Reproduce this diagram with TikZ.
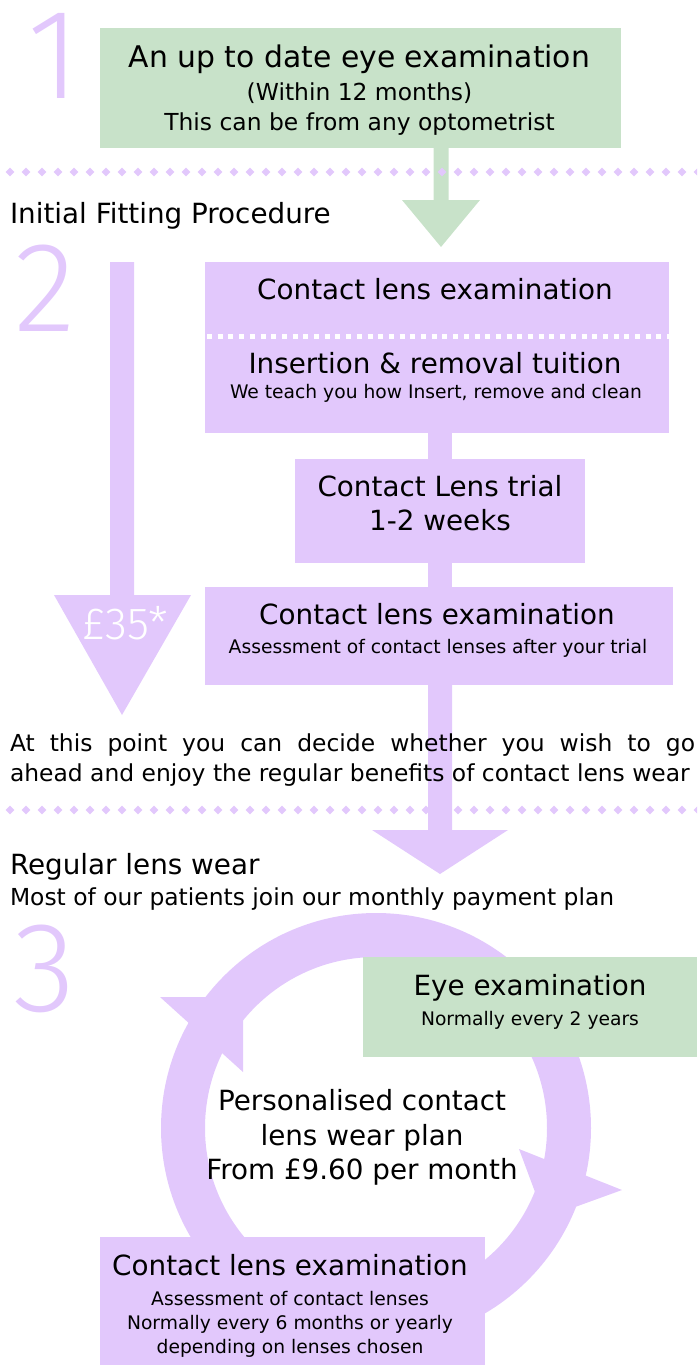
\documentclass[tikz,border=0pt]{standalone}
\usepackage{fontspec}
\setmainfont{DejaVu Sans}
\IfFontExistsTF{Fira Sans Light}
  {\newfontfamily\thinfont{Fira Sans Light}\def\digsize{128}\def\pricesize{45}}
  {\newfontfamily\thinfont{DejaVu Sans}\def\digsize{121}\def\pricesize{42}}
\usetikzlibrary{calc}
\definecolor{lav}{RGB}{226,200,252}
\definecolor{mint}{RGB}{200,226,201}
\begin{document}
\begin{tikzpicture}[x=1pt,y=-1pt,
  pbox/.style={fill=lav,draw=none,inner sep=0pt,outer sep=0pt},
  gbox/.style={fill=mint,draw=none,inner sep=0pt,outer sep=0pt},
  txt/.style={inner sep=0pt,outer sep=0pt,anchor=base,text=black},
  title/.style={txt,font=\fontsize{29.8}{36}\selectfont},
  main/.style={txt,font=\fontsize{27.8}{33}\selectfont},
  mid/.style={txt,font=\fontsize{23.4}{28}\selectfont},
  small/.style={txt,font=\fontsize{18.7}{23}\selectfont},
  digit/.style={inner sep=0pt,outer sep=0pt,anchor=base,text=lav,font=\thinfont\fontsize{\digsize}{\digsize}\selectfont}]
\useasboundingbox (0,0) rectangle (697,1365);
\clip (0,0) rectangle (697,1365);

% ---------- cycle ring (section 3) ----------
\coordinate (ringc) at (376,1128);
\draw[lav,line width=44pt] (ringc) circle[radius=193pt];
\fill[lav] (160,997) -- (243,997) -- (243,1072) -- cycle;
\fill[lav] (519,1149) -- (622,1190) -- (544.7,1218) -- cycle;

% ---------- boxes ----------
\node[gbox,minimum width=521pt,minimum height=120pt] (box1) at (360.5,88) {};
\node[pbox,minimum width=464pt,minimum height=74pt] (b2a) at (437,299) {};
\node[pbox,minimum width=464pt,minimum height=97pt] (b2b) at (437,384.5) {};
\node[pbox,minimum width=290pt,minimum height=104pt] (trial) at (440,511) {};
\node[pbox,minimum width=468pt,minimum height=98pt] (b4) at (439,636) {};
\node[gbox,minimum width=334pt,minimum height=100pt] (eye) at (530,1007) {};
\node[pbox,minimum width=385pt,minimum height=133pt] (b5) at (292.5,1303.5) {};

% white dotted separator inside box 2
\draw[white,line width=5pt,dash pattern=on 5pt off 5.7pt] ($(b2a.south west)+(2,0)$) -- (b2a.south east);

% ---------- connectors ----------
% green arrow from box 1
\coordinate (tip1) at (441,247);
\coordinate (g0) at (box1.south -| tip1);
\fill[mint] ($(g0)+(-7.5,0)$) -- ($(g0)+(7.5,0)$) -- ($(tip1)+(7.5,-47)$) -- ($(tip1)+(39,-47)$)
  -- (tip1) -- ($(tip1)+(-39,-47)$) -- ($(tip1)+(-7.5,-47)$) -- cycle;
% box 2 -> trial
\coordinate (j1) at (trial.north |- b2b.south);
\fill[lav] ($(j1)+(-12,0)$) rectangle ($(trial.north)+(12,0)$);
% trial -> box 4
\coordinate (j2) at (trial.south |- b4.north);
\fill[lav] ($(trial.south)+(-12,0)$) rectangle ($(j2)+(12,0)$);
% box 4 -> section 3
\coordinate (tip3) at (440,874);
\coordinate (k0) at (tip3 |- b4.south);
\fill[lav] ($(k0)+(-12,0)$) -- ($(k0)+(12,0)$) -- ($(tip3)+(12,-44)$) -- ($(tip3)+(68,-44)$)
  -- (tip3) -- ($(tip3)+(-68,-44)$) -- ($(tip3)+(-12,-44)$) -- cycle;
% big left price arrow
\coordinate (tipL) at (122,715);
\coordinate (l0) at (tipL |- b2a.north);
\fill[lav] ($(l0)+(-12,0)$) -- ($(l0)+(12,0)$) -- ($(tipL)+(12,-120)$) -- ($(tipL)+(69,-120)$)
  -- (tipL) -- ($(tipL)+(-68,-120)$) -- ($(tipL)+(-12,-120)$) -- cycle;
\node[inner sep=0pt,anchor=base,text=white,font=\thinfont\fontsize{\pricesize}{\pricesize}\selectfont] (price) at (125,639) {£35*};

% ---------- diamond dotted lines ----------
\foreach \yy in {172,810}{
  \foreach \x in {10,26,...,698}{
    \fill[lav] (\x-4.3,\yy) -- (\x,\yy-4.3) -- (\x+4.3,\yy) -- (\x,\yy+4.3) -- cycle;
  }
}

% ---------- big step numbers ----------
\node[digit] (n1) at (54,98) {1};
\node[digit] (n2) at (45,331) {2};
\node[digit] (n3) at (45,1011) {3};

% ---------- texts ----------
\node[title] (t1a) at (359.5,67) {An up to date eye examination};
\node[mid] (t1b) at (359.5,100) {(Within 12 months)};
\node[mid] (t1c) at (359.5,130) {This can be from any optometrist};

\node[main,anchor=base west] (h2) at (10,223) {Initial Fitting Procedure};

\node[main] (t2a) at (435,299) {Contact lens examination};
\node[main] (t2b) at (435,373) {Insertion \& removal tuition};
\node[small] (t2c) at (436,398) {We teach you how Insert, remove and clean};

\node[main] (t3a) at (440,496) {Contact Lens trial};
\node[main] (t3b) at (440,530) {1-2 weeks};

\node[main] (t4a) at (437,624) {Contact lens examination};
\node[small] (t4b) at (438,653) {Assessment of contact lenses after your trial};

\node[mid,anchor=base west] (p1) at (10,751) {\makebox[685pt][s]{At this point you can decide whether you wish to go}};
\node[mid,anchor=base west] (p2) at (10,781) {ahead and enjoy the regular benefits of contact lens wear};

\node[main,anchor=base west] (h3) at (10,874) {Regular lens wear};
\node[mid,anchor=base west] (h3b) at (10,905) {Most of our patients join our monthly payment plan};

\node[main] (e1) at (530,995) {Eye examination};
\node[small] (e2) at (530,1025) {Normally every 2 years};

\node[main] (c1) at (362,1110) {Personalised contact};
\node[main] (c2) at (362,1145) {lens wear plan};
\node[main] (c3) at (362,1179) {From £9.60 per month};

\node[main] (f1) at (290,1275) {Contact lens examination};
\node[small] (f2) at (290,1305) {Assessment of contact lenses};
\node[small] (f3) at (290,1329) {Normally every 6 months or yearly};
\node[small] (f4) at (290,1353) {depending on lenses chosen};
\end{tikzpicture}
\end{document}
